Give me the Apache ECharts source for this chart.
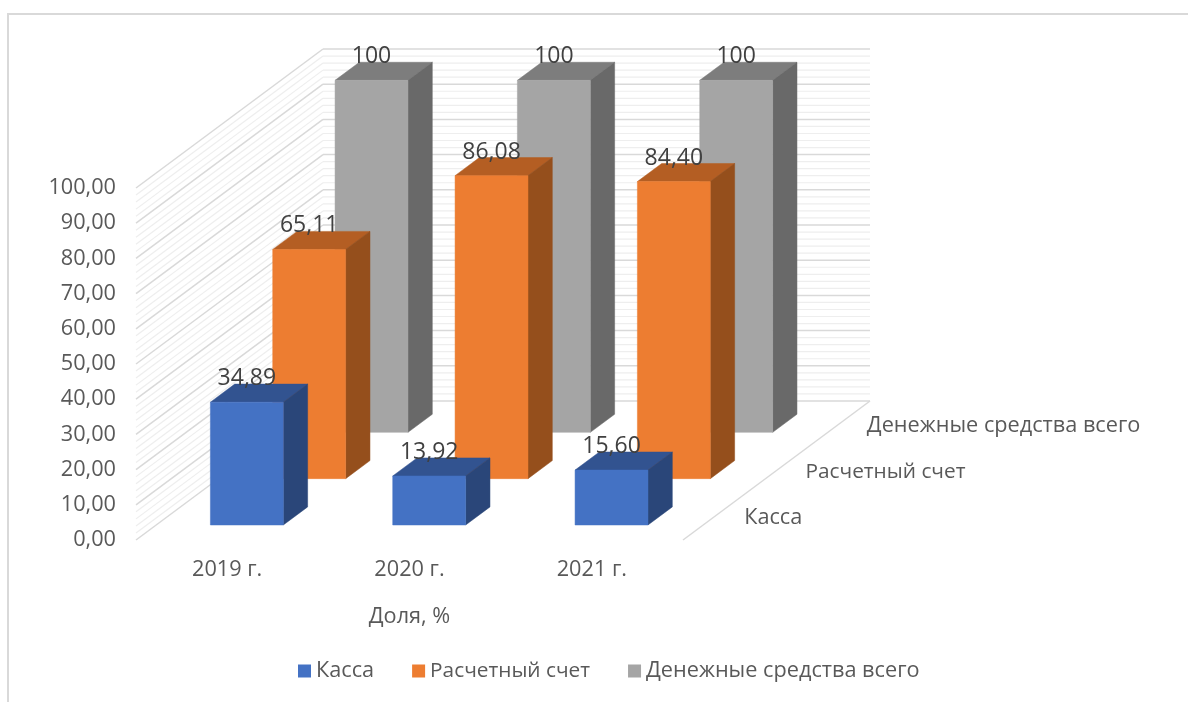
<!DOCTYPE html>
<html>
<head>
<meta charset="utf-8">
<style>html,body{margin:0;padding:0;background:#fff}#c{width:1188px;height:702px}</style>
<script src="https://cdn.jsdelivr.net/npm/echarts@6/dist/echarts.min.js"></script>
</head>
<body>
<div id="c"></div>
<script>
const categories = ['2019 г.', '2020 г.', '2021 г.'];
const kassa = [34.89, 13.92, 15.60];
const raschet = [65.11, 86.08, 84.40];
const vsego = [100, 100, 100];
const seriesNames = ['Касса', 'Расчетный счет', 'Денежные средства всего'];
const wallTicks = [0,2,4,6,8,10,12,14,16,18,20,22,24,26,28,30,32,34,36,38,40,42,44,46,48,50,52,54,56,58,60,62,64,66,68,70,72,74,76,78,80,82,84,86,88,90,92,94,96,98,100];

const FONT = '"Open Sans", sans-serif';
const SIZE = 21.7;
const NAME_SIZES = [21.7, 20.8, 21.7];
const LABEL_SIZE = 23;
const DX = 187, DY = -139;          // pixel vector of the whole depth axis
const BAR_D = 0.13, BAR_START = 0.108, BAR_W = 0.4;

function barRender(depthIndex, palette, decimals) {
  return function (params, api) {
    const cat = api.value(0), val = api.value(1);
    const band = api.size([1, 0])[0];
    const c0 = api.coord([cat, 0]), c1 = api.coord([cat, val]);
    const f = depthIndex / 3 + BAR_START;
    const w = band * BAR_W;
    const x0 = c0[0] - w / 2 + DX * f - 0.5, x1 = x0 + w;
    const yb = c0[1] + DY * f, yt = c1[1] + DY * f;
    const ox = DX * BAR_D, oy = DY * BAR_D;
    const poly = (pts, fill) => ({ type: 'polygon', shape: { points: pts }, style: { fill: fill, stroke: fill, lineWidth: 0.5 } });
    return {
      type: 'group',
      children: [
        poly([[x0, yt], [x1, yt], [x1 + ox, yt + oy], [x0 + ox, yt + oy]], palette[1]),
        poly([[x1, yb], [x1 + ox, yb + oy], [x1 + ox, yt + oy], [x1, yt]], palette[2]),
        poly([[x0, yb], [x1, yb], [x1, yt], [x0, yt]], palette[0]),
        { type: 'text', style: {
            text: val.toFixed(decimals).replace('.', ','),
            x: (x0 + x1) / 2, y: yt + oy - 5.5,
            align: 'center', verticalAlign: 'middle',
            fill: '#404040', font: LABEL_SIZE + 'px ' + FONT } }
      ]
    };
  };
}

function wallRender(params, api) {
  const v = api.value(1);
  const major = v % 10 === 0;
  const a = api.coord([0, v]);
  const band = api.size([1, 0])[0];
  const leftX = a[0] - band / 2, y = a[1];
  const rightX = leftX + band * categories.length;
  const stroke = major ? '#d9d9d9' : '#eeeeee';
  const lw = major ? 1.5 : 1.2;
  const line = (x1, y1, x2, y2) => ({ type: 'line', shape: { x1, y1, x2, y2 }, style: { stroke, lineWidth: lw } });
  const kids = [
    line(leftX, y, leftX + DX, y + DY),
    line(leftX + DX, y + DY, rightX + DX, y + DY)
  ];
  if (v === 0) {
    kids.push(line(rightX, y, rightX + DX, y + DY));
    seriesNames.forEach((n, i) => {
      const f = (i + 0.5) / 3;
      kids.push({ type: 'text', style: {
        text: n, x: rightX + DX * f + 30 - i, y: y + DY * f + 1 + i * 0.5,
        align: 'left', verticalAlign: 'middle',
        fill: '#595959', font: NAME_SIZES[i] + 'px ' + FONT } });
    });
  }
  return { type: 'group', children: kids };
}

const toPairs = arr => arr.map((v, i) => [i, v]);

const chart = echarts.init(document.getElementById('c'), null, { renderer: 'canvas' });
chart.setOption({
  animation: false,
  backgroundColor: '#ffffff',
  textStyle: { fontFamily: FONT },
  graphic: [{
    type: 'rect', silent: true, z: -1,
    shape: { x: 8, y: 14, width: 1400, height: 900 },
    style: { fill: 'none', stroke: '#d9d9d9', lineWidth: 2 }
  }],
  grid: { left: 136, top: 188, width: 547, height: 352, containLabel: false },
  xAxis: {
    type: 'category', data: categories,
    axisLine: { show: false }, axisTick: { show: false },
    axisLabel: { color: '#595959', fontSize: SIZE, fontFamily: FONT, margin: 19 },
    name: 'Доля, %', nameLocation: 'middle', nameGap: 66,
    nameTextStyle: { color: '#595959', fontSize: SIZE, fontFamily: FONT }
  },
  yAxis: {
    type: 'value', min: 0, max: 100, interval: 10,
    axisLine: { show: false }, axisTick: { show: false }, splitLine: { show: false },
    axisLabel: { color: '#595959', fontSize: SIZE, fontFamily: FONT, margin: 20, padding: [2, 0, 0, 0],
      formatter: v => v.toFixed(2).replace('.', ',') }
  },
  legend: {
    left: 298, top: 660, padding: 0, itemWidth: 13, itemHeight: 13, itemGap: 38, icon: 'rect',
    data: seriesNames.map((n, i) => ({ name: n, textStyle: { fontSize: NAME_SIZES[i] } })),
    textStyle: { color: '#595959', fontSize: SIZE, fontFamily: FONT }
  },
  series: [
    { type: 'custom', name: '__walls', z: 1, silent: true, encode: { x: 0, y: 1 },
      data: wallTicks.map(v => [0, v]), renderItem: wallRender },
    { type: 'custom', name: seriesNames[0], z: 5, encode: { x: 0, y: 1 }, itemStyle: { color: '#4472C4' },
      data: toPairs(kassa), renderItem: barRender(0, ['#4472C4', '#325390', '#2A4679'], 2) },
    { type: 'custom', name: seriesNames[1], z: 4, encode: { x: 0, y: 1 }, itemStyle: { color: '#ED7D31' },
      data: toPairs(raschet), renderItem: barRender(1, ['#ED7D31', '#B45E23', '#954F1C'], 2) },
    { type: 'custom', name: seriesNames[2], z: 3, encode: { x: 0, y: 1 }, itemStyle: { color: '#A5A5A5' },
      data: toPairs(vsego), renderItem: barRender(2, ['#A5A5A5', '#7D7D7D', '#696969'], 0) }
  ]
});
</script>
</body>
</html>
